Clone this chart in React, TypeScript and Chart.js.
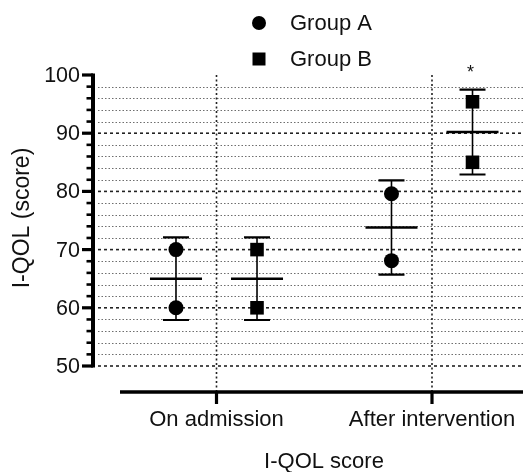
import React, { useEffect, useRef } from "react";
import { Chart, registerables } from "chart.js";

Chart.register(...registerables);

// ---- Data ----
const categories = ["On admission", "After intervention"];
const groupLabels = ["Group A", "Group B"];
const groupAPoints = [
  [70, 60],
  [79.6, 68.1],
];
const groupBPoints = [
  [70, 60],
  [95.4, 85.0],
];
const groupAMean = [65, 73.8];
const groupBMean = [65, 90.2];
const groupALow = [57.9, 65.7];
const groupAHigh = [72.1, 81.9];
const groupBLow = [57.9, 82.9];
const groupBHigh = [72.1, 97.5];
const groupBMarks = ["", "*"];
const yTickLabels = [50, 60, 70, 80, 90, 100];
const yMinorStep = 2;
const xTitle = "I-QOL score";
const yTitle = "I-QOL (score)";

// ---- Styling / layout constants ----
const FONT = '"Liberation Sans", Arial, Helvetica, sans-serif';
const GROUP_OFFSET = 0.188;
const X_MIN = -0.5499;
const X_MAX = 1.4223;

const groups = [
  { label: groupLabels[0], points: groupAPoints, mean: groupAMean, low: groupALow, high: groupAHigh, marks: ["", ""], offset: -GROUP_OFFSET, style: "circle", radius: 7.5 },
  { label: groupLabels[1], points: groupBPoints, mean: groupBMean, low: groupBLow, high: groupBHigh, marks: groupBMarks, offset: GROUP_OFFSET, style: "rect", radius: 9.6 },
];

const customPlugin = {
  id: "prismStyle",
  beforeDatasetsDraw(chart: any) {
    const { ctx, chartArea, scales } = chart;
    const xs = scales.x;
    const ys = scales.y;
    const yMin = yTickLabels[0];
    const yMax = yTickLabels[yTickLabels.length - 1];
    const xAxisY = 392;
    ctx.save();
    // minor grid
    for (let v = yMin + yMinorStep; v < yMax; v += yMinorStep) {
      if (yTickLabels.includes(v)) continue;
      const y = Math.round(ys.getPixelForValue(v)) + 0.5;
      ctx.beginPath();
      ctx.setLineDash([1.5, 2]);
      ctx.strokeStyle = "#6e6e6e";
      ctx.lineWidth = 1.1;
      ctx.moveTo(chartArea.left, y);
      ctx.lineTo(chartArea.right, y);
      ctx.stroke();
    }
    // major grid
    yTickLabels.forEach((v) => {
      if (v === yMax) return;
      const y = ys.getPixelForValue(v);
      ctx.beginPath();
      ctx.setLineDash([3, 3]);
      ctx.strokeStyle = "#222";
      ctx.lineWidth = 1.6;
      ctx.moveTo(chartArea.left, y);
      ctx.lineTo(chartArea.right, y);
      ctx.stroke();
    });
    // vertical category lines
    categories.forEach((_, i) => {
      const x = xs.getPixelForValue(i);
      ctx.beginPath();
      ctx.setLineDash([2, 2.5]);
      ctx.strokeStyle = "#222";
      ctx.lineWidth = 1.6;
      ctx.moveTo(x, chartArea.top);
      ctx.lineTo(x, xAxisY);
      ctx.stroke();
    });
    ctx.setLineDash([]);

    // Y axis
    const axisX = 93;
    ctx.strokeStyle = "#000";
    ctx.lineWidth = 4;
    ctx.beginPath();
    ctx.moveTo(axisX, ys.getPixelForValue(yMax) - 1.5);
    ctx.lineTo(axisX, ys.getPixelForValue(yMin) + 1.5);
    ctx.stroke();
    for (let v = yMin; v <= yMax; v += yMinorStep) {
      const y = ys.getPixelForValue(v);
      const major = yTickLabels.includes(v);
      ctx.lineWidth = major ? 3.2 : 2.6;
      ctx.beginPath();
      ctx.moveTo(major ? 82 : 86.5, y);
      ctx.lineTo(axisX, y);
      ctx.stroke();
    }
    ctx.fillStyle = "#111";
    ctx.font = `21.5px ${FONT}`;
    ctx.textAlign = "right";
    ctx.textBaseline = "middle";
    yTickLabels.forEach((v) => {
      ctx.fillText(String(v), 80, ys.getPixelForValue(v) + 1);
    });

    // X axis
    ctx.lineWidth = 3.6;
    ctx.beginPath();
    ctx.moveTo(120, xAxisY);
    ctx.lineTo(chartArea.right, xAxisY);
    ctx.stroke();
    ctx.lineWidth = 3.2;
    categories.forEach((c, i) => {
      const x = xs.getPixelForValue(i);
      ctx.beginPath();
      ctx.moveTo(x, xAxisY);
      ctx.lineTo(x, 404);
      ctx.stroke();
    });
    ctx.font = `22px ${FONT}`;
    ctx.textAlign = "center";
    categories.forEach((c, i) => {
      ctx.fillText(c, xs.getPixelForValue(i), 420);
    });
    ctx.fillText(xTitle, 324, 462);

    // Y title
    ctx.save();
    ctx.font = `23px ${FONT}`;
    ctx.translate(23, 218);
    ctx.rotate(-Math.PI / 2);
    ctx.fillText(yTitle, 0, 0);
    ctx.restore();

    // Legend
    ctx.font = `22px ${FONT}`;
    ctx.textAlign = "left";
    groups.forEach((g, gi) => {
      const cy = 23 + gi * 36;
      ctx.fillStyle = "#000";
      ctx.beginPath();
      if (g.style === "circle") {
        ctx.arc(259, cy, 7, 0, Math.PI * 2);
      } else {
        ctx.rect(259 - 6.5, cy - 6.5, 13, 13);
      }
      ctx.fill();
      ctx.fillStyle = "#111";
      ctx.fillText(g.label, 290, cy + 1);
    });

    // Error bars (mean +/- SD)
    ctx.strokeStyle = "#000";
    groups.forEach((g) => {
      categories.forEach((_, i) => {
        const x = xs.getPixelForValue(i + g.offset);
        const yLo = ys.getPixelForValue(g.low[i]);
        const yHi = ys.getPixelForValue(g.high[i]);
        const yM = ys.getPixelForValue(g.mean[i]);
        ctx.lineWidth = 1.6;
        ctx.beginPath();
        ctx.moveTo(x, yLo);
        ctx.lineTo(x, yHi);
        ctx.stroke();
        ctx.lineWidth = 2.2;
        ctx.beginPath();
        ctx.moveTo(x - 13, yLo);
        ctx.lineTo(x + 13, yLo);
        ctx.moveTo(x - 13, yHi);
        ctx.lineTo(x + 13, yHi);
        ctx.stroke();
        ctx.lineWidth = 2.6;
        ctx.beginPath();
        ctx.moveTo(x - 26, yM);
        ctx.lineTo(x + 26, yM);
        ctx.stroke();
        const mark = g.marks[i];
        if (mark) {
          ctx.fillStyle = "#111";
          ctx.font = `18px ${FONT}`;
          ctx.textAlign = "center";
          ctx.textBaseline = "alphabetic";
          ctx.fillText(mark, x - 2, 78);
        }
      });
    });
    ctx.restore();
  },
};

export default function App() {
  const canvasRef = useRef<HTMLCanvasElement | null>(null);

  useEffect(() => {
    const canvas = canvasRef.current;
    if (!canvas) return;
    const datasets = groups.map((g) => ({
      label: g.label,
      data: g.points.flatMap((vals, i) => vals.map((v) => ({ x: i + g.offset, y: v }))),
      pointStyle: g.style,
      pointRadius: g.radius,
      pointHoverRadius: g.radius,
      backgroundColor: "#000",
      borderColor: "#000",
      borderWidth: 0,
      showLine: false,
    }));
    const chart = new Chart(canvas, {
      type: "scatter",
      data: { datasets },
      options: {
        responsive: false,
        animation: false,
        events: [],
        layout: { autoPadding: false, padding: { left: 98, top: 75, right: 0, bottom: 106 } },
        plugins: { legend: { display: false }, tooltip: { enabled: false }, title: { display: false } },
        scales: {
          x: { type: "linear", min: X_MIN, max: X_MAX, display: false },
          y: { type: "linear", min: yTickLabels[0], max: yTickLabels[yTickLabels.length - 1], display: false },
        },
      },
      plugins: [customPlugin],
    });
    return () => chart.destroy();
  }, []);

  return (
    <div style={{ position: "absolute", left: 0, top: 0, width: 523, height: 472, background: "#fff" }}>
      <canvas ref={canvasRef} width={523} height={472} style={{ width: 523, height: 472, display: "block" }} />
    </div>
  );
}
